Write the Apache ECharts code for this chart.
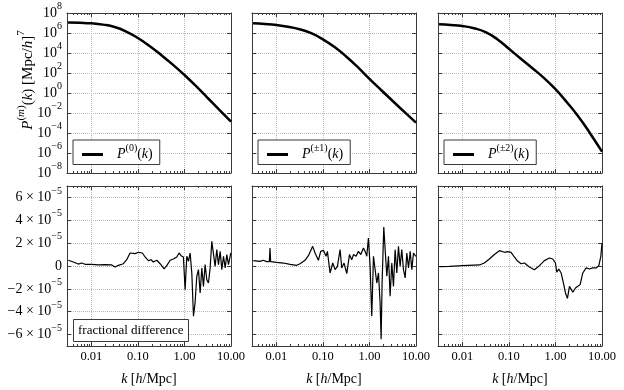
<!DOCTYPE html>
<html>
<head>
<meta charset="utf-8">
<script src="https://cdn.jsdelivr.net/npm/echarts@6/dist/echarts.min.js"></script>
<style>
html, body { margin: 0; padding: 0; background: #fff; }
#chart { width: 624px; height: 390px; }
</style>
</head>
<body>
<div id="chart"></div>
<script>
// wavenumbers for the power spectra [h/Mpc]
var kSpec = [0.00316, 0.00562, 0.01, 0.0178, 0.0316, 0.0562, 0.1, 0.178, 0.316, 0.562, 1, 1.78, 3.16, 5.62, 10];
// P^(m)(k) [Mpc/h]^7
var pM0 = [1.12e7, 1.05e7, 9.3e6, 6.9e6, 4.0e6, 1.41e6, 3.16e5, 5.0e4, 6.3e3, 692, 63, 4.8, 0.316, 0.0209, 1.35e-3];
var pM1 = [9.3e6, 7.9e6, 6.3e6, 4.3e6, 2.4e6, 9.5e5, 2.34e5, 3.9e4, 4.5e3, 389, 26, 2.0, 0.158, 0.0129, 1.07e-3];
var pM2 = [7.4e6, 6.46e6, 5.0e6, 3.0e6, 1.2e6, 2.4e5, 2.63e4, 2.82e3, 316, 33.1, 2.4, 0.112, 3.98e-3, 8.5e-5, 1.35e-6];

// fractional differences, in units of 1e-5
var kD0 = [0.0032, 0.0041, 0.00525, 0.0062, 0.0073, 0.0102, 0.0142, 0.0197, 0.0274, 0.0323, 0.0381, 0.0488, 0.0575, 0.0679, 0.0869, 0.1026, 0.125, 0.1426, 0.168, 0.192, 0.215, 0.254, 0.30, 0.366, 0.417, 0.492, 0.579, 0.684, 0.767, 0.847, 0.95, 1.033, 1.122, 1.22, 1.324, 1.439, 1.563, 1.695, 1.841, 2.0, 2.173, 2.36, 2.564, 2.78, 3.02, 3.28, 3.56, 3.87, 4.2, 4.56, 4.95, 5.38, 5.85, 6.35, 6.9, 7.5, 8.13, 8.83, 9.9];
var dM0 = [0.5, 0.35, 0.17, 0.26, 0.15, 0.15, 0.09, 0.12, 0.09, -0.09, 0.06, 0.2, 0.55, 1.14, 1.08, 1.2, 1.14, 0.79, 0.47, 0.55, 0.35, 0.5, 0.2, -0.26, 0.03, 0.5, 0.61, 0.79, 1.14, 0.9, 0.79, -2.07, 0.85, 0.41, 1.14, -0.61, -4.4, -3.2, -0.9, -0.32, -2.36, -0.17, -1.78, 0.12, -1.2, -1.49, -0.17, 2.16, 2.0, -0.03, 1.43, 0.12, 1.28, -0.32, 0.85, -0.17, 1.0, 0.12, 1.14];

var kD1 = [0.0032, 0.00445, 0.00525, 0.0062, 0.00707, 0.0073, 0.00755, 0.0102, 0.0142, 0.0197, 0.0274, 0.0323, 0.0413, 0.0488, 0.0604, 0.0679, 0.080, 0.0897, 0.1026, 0.117, 0.125, 0.1426, 0.1626, 0.183, 0.205, 0.234, 0.254, 0.285, 0.326, 0.372, 0.417, 0.453, 0.516, 0.579, 0.652, 0.743, 0.807, 0.877, 0.95, 1.033, 1.122, 1.22, 1.324, 1.439, 1.563, 1.695, 1.782, 1.87, 2.032, 2.36, 2.564, 2.78, 3.02, 3.28, 3.56, 3.87, 4.2, 4.56, 4.95, 5.38, 5.85, 6.35, 6.9, 7.5, 8.13, 8.83, 9.9];
var dM1 = [0.47, 0.41, 0.5, 0.38, 0.38, 1.57, 0.38, 0.32, 0.26, 0.15, 0.06, 0.2, 0.5, 0.9, 1.72, 1.14, 0.5, 1.28, 1.37, 0.85, 1.28, -0.61, 0.26, -0.32, -0.03, 1.43, -0.17, 0.26, -0.67, 1.0, 0.55, 1.0, 0.85, 1.28, 1.0, 1.57, 1.28, 0.85, 2.45, -0.03, -4.4, 0.85, -0.32, -1.49, -0.61, -3.24, -6.4, -1.5, 3.4, -0.9, 0.85, -2.65, 0.26, -1.78, 1.43, -0.61, 1.72, -0.03, 1.43, -0.32, -1.05, 1.14, -0.17, 1.28, -0.32, 1.14, 0.85];

var kD2 = [0.0032, 0.00525, 0.0102, 0.0232, 0.0297, 0.0381, 0.0488, 0.0625, 0.080, 0.0944, 0.1114, 0.131, 0.155, 0.183, 0.215, 0.276, 0.353, 0.453, 0.579, 0.743, 0.877, 1.0, 1.069, 1.18, 1.324, 1.486, 1.641, 1.811, 2.0, 2.173, 2.36, 2.69, 3.02, 3.39, 3.87, 4.2, 4.56, 5.38, 6.35, 7.5, 8.55, 9.44, 10.0];
var dM2 = [-0.06, -0.03, 0.03, 0.09, 0.26, 0.61, 1.0, 1.34, 1.2, 1.25, 1.2, 0.79, 0.41, 0.2, 0.26, -0.09, -0.32, 0.03, 0.47, 0.7, 0.61, 0.26, -0.55, -0.26, -0.61, -1.49, -2.36, -2.83, -1.78, -1.63, -2.3, -1.92, -1.78, -1.63, -0.61, -0.47, -0.17, -0.26, -0.17, -0.17, 0.03, 0.85, 2.0];

// axis ticks
var kMajor = [0.01, 0.1, 1, 10];
var kMinor = [0.004, 0.005, 0.006, 0.007, 0.008, 0.009, 0.02, 0.03, 0.04, 0.05, 0.06, 0.07, 0.08, 0.09,
              0.2, 0.3, 0.4, 0.5, 0.6, 0.7, 0.8, 0.9, 2, 3, 4, 5, 6, 7, 8, 9];
var pTicks = [1e-8, 1e-6, 1e-4, 1e-2, 1, 1e2, 1e4, 1e6, 1e8];
var dTicks = [-6, -4, -2, 0, 2, 4, 6];

var FONT = "'Liberation Serif', 'DejaVu Serif', serif";
var FRAME = '#3a3a3a';
var GRIDC = '#b8b8b8';

function rich(size) {
    var sup = Math.round(size * 0.72);
    return {
        b: { fontFamily: FONT, fontSize: size, color: '#000', lineHeight: size + 9 },
        i: { fontFamily: FONT, fontSize: size, fontStyle: 'italic', color: '#000', lineHeight: size + 9 },
        s: { fontFamily: FONT, fontSize: sup, color: '#000', verticalAlign: 'top', lineHeight: sup + 2 },
        si: { fontFamily: FONT, fontSize: sup, fontStyle: 'italic', color: '#000', verticalAlign: 'top', lineHeight: sup + 2 }
    };
}

function sup(n) {
    return n < 0 ? '\u2212' + (-n) : '' + n;
}

var vm = {
    cols: [67, 252, 438],
    rows: [13, 186],
    w: 164,
    h: 160
};

var grids = [], xAxes = [], yAxes = [], series = [], legends = [];
var specs = [pM0, pM1, pM2];
var diffK = [kD0, kD1, kD2];
var diffV = [dM0, dM1, dM2];
var legendNames = { P0: '(0)', P1: '(\u00b11)', P2: '(\u00b12)' };

for (var r = 0; r < 2; r++) {
    for (var c = 0; c < 3; c++) {
        var idx = r * 3 + c;
        grids.push({ left: vm.cols[c], top: vm.rows[r], width: vm.w, height: vm.h });

        var xBase = {
            gridIndex: idx, type: 'log', logBase: 10, min: 0.003, max: 10,
            axisLine: { show: true, onZero: false, lineStyle: { color: FRAME, width: 1 } },
            axisTick: { show: true, inside: true, length: 4, customValues: kMajor, lineStyle: { color: FRAME } },
            axisLabel: { show: false },
            splitLine: { show: false }
        };
        // main bottom axis
        xAxes.push(echarts.util.merge(echarts.util.clone(xBase), {
            position: 'bottom',
            axisLabel: {
                show: r === 1, customValues: kMajor, margin: 4,
                fontFamily: FONT, fontSize: 12.5, color: '#000',
                formatter: function (v) { return v.toFixed(2); }
            },
            splitLine: { show: true, lineStyle: { type: 'dotted', color: GRIDC, width: 1 } },
            name: r === 1 ? '{i|k} {b|[}{i|h}{b|/Mpc]}' : '',
            nameLocation: 'middle', nameGap: 22, nameMoveOverlap: false,
            nameTextStyle: { rich: rich(14) }
        }, true));
        xAxes.push(echarts.util.merge(echarts.util.clone(xBase), { position: 'top' }, true));
        xAxes.push(echarts.util.merge(echarts.util.clone(xBase), {
            position: 'bottom', axisLine: { show: false },
            axisTick: { length: 2, customValues: kMinor }
        }, true));
        xAxes.push(echarts.util.merge(echarts.util.clone(xBase), {
            position: 'top', axisLine: { show: false },
            axisTick: { length: 2, customValues: kMinor }
        }, true));

        var yTicks = r === 0 ? pTicks : dTicks;
        var yCommon = r === 0
            ? { type: 'log', logBase: 10, min: 1e-8, max: 1e8, splitNumber: 8 }
            : { type: 'value', min: -7, max: 7 };
        var yLeft = echarts.util.merge({
            gridIndex: idx, position: 'left',
            axisLine: { show: true, onZero: false, lineStyle: { color: FRAME, width: 1 } },
            axisTick: { show: true, inside: true, length: 4, customValues: yTicks, lineStyle: { color: FRAME } },
            axisLabel: {
                show: c === 0, customValues: yTicks, margin: 5,
                rich: rich(14),
                formatter: r === 0
                    ? function (v) { return '{b|10}{s|' + sup(Math.round(Math.log10(v))) + '}'; }
                    : function (v) {
                        if (v === 0) return '{b|0}';
                        return '{b|' + (v < 0 ? '\u2212' : '') + Math.abs(v) + ' \u00d7 10}{s|\u22125}';
                    }
            },
            splitLine: { show: true, lineStyle: { type: 'dotted', color: GRIDC, width: 1 } }
        }, yCommon, true);
        if (idx === 0) {
            yLeft.name = '{i|P}{s|(}{si|m}{s|)}{b|(}{i|k}{b|) [Mpc/}{i|h}{b|]}{s|7}';
            yLeft.nameLocation = 'middle';
            yLeft.nameRotate = 90;
            yLeft.nameGap = 27;
            yLeft.nameMoveOverlap = false;
            yLeft.nameTextStyle = { rich: rich(15), padding: [0, 0, 0, 26] };
        }
        yAxes.push(yLeft);
        yAxes.push(echarts.util.merge({
            gridIndex: idx, position: 'right',
            axisLine: { show: true, onZero: false, lineStyle: { color: FRAME, width: 1 } },
            axisTick: { show: true, inside: true, length: 4, customValues: yTicks, lineStyle: { color: FRAME } },
            axisLabel: { show: false },
            splitLine: { show: false }
        }, yCommon, true));

        var data = [];
        if (r === 0) {
            for (var i = 0; i < kSpec.length; i++) data.push([kSpec[i], specs[c][i]]);
            series.push({
                name: 'P' + c, type: 'line', xAxisIndex: idx * 4, yAxisIndex: idx * 2,
                data: data, smooth: 0.5, symbol: 'none', showSymbol: false,
                lineStyle: { color: '#000', width: 2.5 }, itemStyle: { color: '#000' }
            });
            legends.push({
                data: [{ name: 'P' + c, icon: 'rect' }],
                left: vm.cols[c] + 6, top: vm.rows[0] + 127,
                orient: 'horizontal',
                backgroundColor: '#fff', borderColor: FRAME, borderWidth: 1, borderRadius: 0,
                padding: [3, 7, 3, 9],
                itemWidth: 21, itemHeight: 3,
                itemStyle: { color: '#000' },
                textStyle: { rich: rich(14), padding: [0, 0, 0, 9] },
                formatter: function (name) {
                    return '{i|P}{s|' + legendNames[name] + '}{b|(}{i|k}{b|)}';
                }
            });
        } else {
            for (var j = 0; j < diffK[c].length; j++) data.push([diffK[c][j], diffV[c][j]]);
            series.push({
                name: 'diff' + c, type: 'line', xAxisIndex: idx * 4, yAxisIndex: idx * 2,
                data: data, symbol: 'none', showSymbol: false,
                lineStyle: { color: '#000', width: 1.2 }
            });
        }
    }
}

var chart = echarts.init(document.getElementById('chart'));
chart.setOption({
    animation: false,
    backgroundColor: '#fff',
    title: [{
        text: 'fractional difference',
        left: 73, top: 319,
        padding: [5, 5, 5, 5],
        backgroundColor: '#fff', borderColor: FRAME, borderWidth: 1,
        textStyle: { fontFamily: FONT, fontSize: 13, fontWeight: 'normal', color: '#000' }
    }],
    legend: legends,
    grid: grids,
    xAxis: xAxes,
    yAxis: yAxes,
    series: series
});
</script>
</body>
</html>
